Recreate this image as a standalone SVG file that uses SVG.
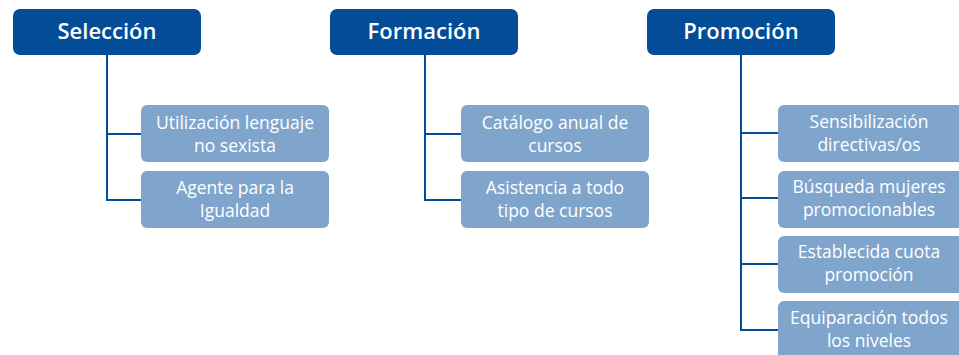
<svg xmlns="http://www.w3.org/2000/svg" width="959" height="355" viewBox="0 0 959 355">
<style>
.hdr{fill:#034C97}
.child{fill:#80A5CC}
.ht{fill:#fff;font-family:"Open Sans","Liberation Sans",sans-serif;font-size:22px;font-weight:600;text-anchor:middle}
.ct{fill:#fff;font-family:"Open Sans","Liberation Sans",sans-serif;font-size:17.5px;text-anchor:middle}
.con{fill:none;stroke:#034C97;stroke-width:2}
</style>
<rect width="959" height="355" fill="#fff"/>
<g id="connectors">
<path class="con" d="M107 55V200H141M107 134H141"/>
<path class="con" d="M425 55V200H461M425 134H461"/>
<path class="con" d="M741 55V330H778M741 133H778M741 198H778M741 264H778"/>
</g>
<g id="n-seleccion"><rect class="hdr" x="13" y="9" width="188" height="46" rx="7"/><text class="ht" x="107" y="39">Selección</text></g>
<g id="n-formacion"><rect class="hdr" x="330" y="9" width="188" height="46" rx="7"/><text class="ht" x="424" y="39">Formación</text></g>
<g id="n-promocion"><rect class="hdr" x="647" y="9" width="188" height="46" rx="7"/><text class="ht" x="741" y="39">Promoción</text></g>
<g id="n-s1"><rect class="child" x="141" y="105" width="188" height="57" rx="6"/><text class="ct" x="235" y="129">Utilización lenguaje</text><text class="ct" x="235" y="152">no sexista</text></g>
<g id="n-s2"><rect class="child" x="141" y="171" width="188" height="57" rx="6"/><text class="ct" x="235" y="194">Agente para la</text><text class="ct" x="235" y="217">Igualdad</text></g>
<g id="n-f1"><rect class="child" x="461" y="105" width="188" height="57" rx="6"/><text class="ct" x="555" y="129">Catálogo anual de</text><text class="ct" x="555" y="152">cursos</text></g>
<g id="n-f2"><rect class="child" x="461" y="171" width="188" height="57" rx="6"/><text class="ct" x="555" y="194">Asistencia a todo</text><text class="ct" x="555" y="217">tipo de cursos</text></g>
<g id="n-p1"><rect class="child" x="778" y="105" width="190" height="57" rx="6"/><text class="ct" x="869" y="128">Sensibilización</text><text class="ct" x="869" y="151">directivas/os</text></g>
<g id="n-p2"><rect class="child" x="778" y="171" width="190" height="57" rx="6"/><text class="ct" x="869" y="193">Búsqueda mujeres</text><text class="ct" x="869" y="216">promocionables</text></g>
<g id="n-p3"><rect class="child" x="778" y="236" width="190" height="57" rx="6"/><text class="ct" x="869" y="258">Establecida cuota</text><text class="ct" x="869" y="281">promoción</text></g>
<g id="n-p4"><rect class="child" x="778" y="301" width="190" height="60" rx="6"/><text class="ct" x="869" y="324">Equiparación todos</text><text class="ct" x="869" y="347">los niveles</text></g>
</svg>
